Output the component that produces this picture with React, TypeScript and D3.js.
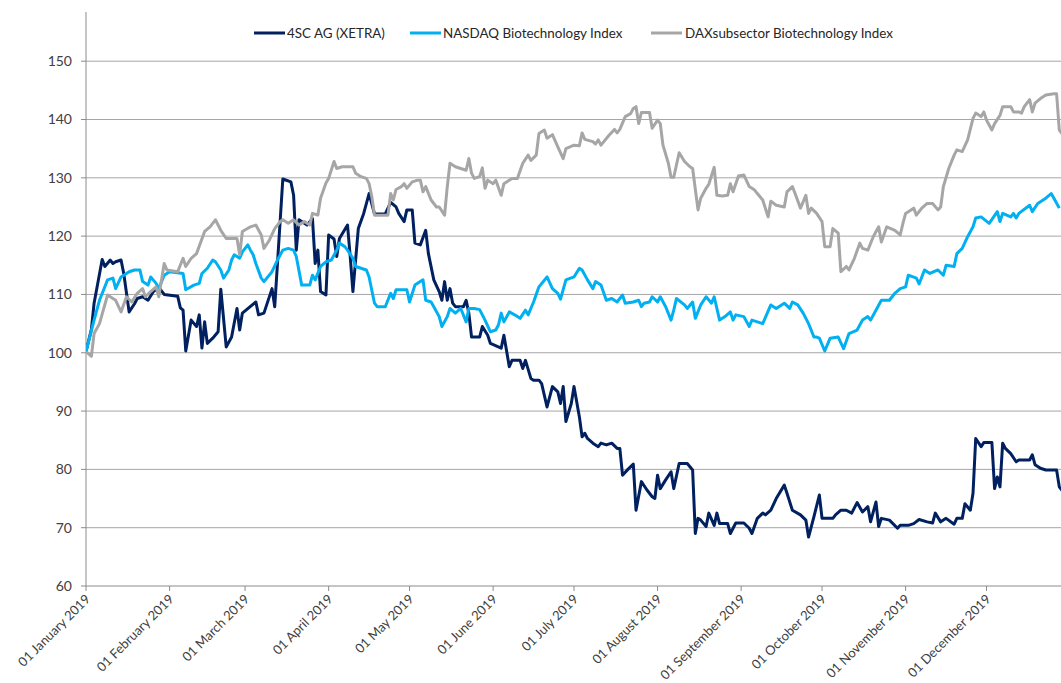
import React from 'react';
import * as d3 from 'd3';

// Indexed performance 2019 (01.01.2019 = 100)
const fourSC: [string, number][] = [
  ['01-01', 100.2], ['01-03', 104], ['01-04', 108.5], ['01-07', 116], ['01-08', 114.8], ['01-10', 115.9],
  ['01-11', 115.3], ['01-12', 115.6], ['01-14', 115.9], ['01-15', 113.6], ['01-17', 107], ['01-19', 108.4],
  ['01-20', 109.3], ['01-22', 109.6], ['01-24', 109], ['01-26', 110.5], ['01-28', 111.2], ['01-30', 110],
  ['02-04', 109.7], ['02-05', 107.7], ['02-06', 107.3], ['02-07', 100.3], ['02-09', 105.6], ['02-11', 104.5],
  ['02-12', 106.5], ['02-13', 100.8], ['02-14', 105.3], ['02-15', 101.6], ['02-17', 102.5], ['02-19', 103.6],
  ['02-20', 110.9], ['02-22', 101], ['02-24', 102.7], ['02-26', 107.6], ['02-27', 103.9], ['02-28', 106.8],
  ['03-05', 108.7], ['03-06', 106.5], ['03-08', 106.8], ['03-11', 111], ['03-12', 107.9], ['03-15', 129.8],
  ['03-18', 129.3], ['03-19', 127], ['03-20', 117.6], ['03-21', 122.8], ['03-23', 122.2], ['03-24', 121.9],
  ['03-26', 123], ['03-27', 115.3], ['03-28', 117.6], ['03-29', 110.5], ['03-31', 109.9], ['04-01', 120.2],
  ['04-03', 119.5], ['04-04', 116.5], ['04-05', 119.6], ['04-08', 121.9], ['04-09', 116.5], ['04-10', 110.5],
  ['04-12', 121.3], ['04-14', 123.9], ['04-16', 127.3], ['04-18', 123.8], ['04-22', 123.8], ['04-24', 125.8],
  ['04-26', 125], ['04-27', 123.9], ['04-29', 122.5], ['04-30', 124.5], ['05-02', 124.5], ['05-03', 118.8],
  ['05-05', 118.5], ['05-07', 121], ['05-08', 117], ['05-10', 112.5], ['05-12', 110.5], ['05-13', 109],
  ['05-14', 112.2], ['05-15', 109], ['05-16', 111], ['05-17', 108.5], ['05-18', 107.9], ['05-21', 107.9],
  ['05-22', 109], ['05-23', 106.8], ['05-24', 102.7], ['05-27', 102.7], ['05-28', 104.5], ['05-30', 103],
  ['05-31', 101.6], ['06-04', 100.8], ['06-05', 103], ['06-07', 97.6], ['06-08', 98.7], ['06-11', 98.7],
  ['06-12', 97.3], ['06-13', 98.7], ['06-15', 95.6], ['06-16', 95.3], ['06-18', 95.3], ['06-19', 94.7],
  ['06-21', 90.7], ['06-23', 94.2], ['06-25', 93.3], ['06-26', 91.3], ['06-27', 94.2], ['06-28', 88.2],
  ['06-30', 91.3], ['07-01', 94.2], ['07-03', 89], ['07-04', 85.6], ['07-05', 86.2], ['07-06', 85.3],
  ['07-08', 84.5], ['07-10', 83.9], ['07-11', 84.5], ['07-13', 84.2], ['07-15', 84.5], ['07-17', 83.6],
  ['07-18', 83.6], ['07-19', 79], ['07-21', 80], ['07-23', 80.9], ['07-24', 73], ['07-26', 77.9],
  ['07-28', 76.5], ['07-30', 75.3], ['07-31', 75], ['08-01', 79], ['08-02', 76.7], ['08-04', 78.2],
  ['08-06', 79.6], ['08-07', 76.7], ['08-09', 81], ['08-12', 81], ['08-14', 79.9], ['08-15', 69],
  ['08-16', 71.6], ['08-17', 71.3], ['08-19', 70.2], ['08-20', 72.5], ['08-22', 70.4], ['08-23', 72.5],
  ['08-24', 70.7], ['08-27', 70.7], ['08-28', 69], ['08-30', 70.8], ['09-02', 70.8], ['09-04', 69.9],
  ['09-05', 69], ['09-07', 71.6], ['09-09', 72.5], ['09-10', 72.2], ['09-12', 73], ['09-14', 75],
  ['09-17', 77.3], ['09-18', 75.9], ['09-20', 73], ['09-23', 72.2], ['09-25', 71.3], ['09-26', 68.4],
  ['09-28', 71.9], ['09-30', 75.6], ['10-01', 71.6], ['10-05', 71.6], ['10-06', 72.2], ['10-08', 73],
  ['10-10', 73], ['10-12', 72.5], ['10-14', 74.3], ['10-16', 72.7], ['10-18', 73.6], ['10-19', 71],
  ['10-21', 74.4], ['10-22', 70.2], ['10-23', 71.6], ['10-26', 71.3], ['10-29', 69.9], ['10-30', 70.4],
  ['11-02', 70.4], ['11-04', 70.7], ['11-06', 71.4], ['11-09', 71], ['11-11', 70.8], ['11-12', 72.5],
  ['11-14', 71], ['11-16', 71.6], ['11-19', 70.6], ['11-20', 71.6], ['11-22', 71.6], ['11-23', 74.1],
  ['11-25', 73], ['11-26', 75.9], ['11-27', 85.3], ['11-29', 83.9], ['11-30', 84.6], ['12-03', 84.6],
  ['12-04', 76.7], ['12-05', 78.7], ['12-06', 77], ['12-07', 84.5], ['12-08', 83.6], ['12-10', 82.7],
  ['12-12', 81.3], ['12-13', 81.6], ['12-17', 81.6], ['12-18', 82.5], ['12-19', 80.8], ['12-21', 80.2],
  ['12-23', 79.9], ['12-27', 79.9], ['12-28', 77], ['12-29', 76.4]
];

const nasdaqBiotech: [string, number][] = [
  ['01-01', 100.2], ['01-04', 105.6], ['01-06', 109], ['01-09', 112.5], ['01-11', 112.8], ['01-12', 111],
  ['01-14', 113], ['01-17', 113.9], ['01-19', 114.2], ['01-21', 114.2], ['01-22', 112.2], ['01-24', 111.6],
  ['01-25', 113], ['01-27', 111.9], ['01-28', 111], ['01-30', 113.3], ['02-01', 113.9], ['02-06', 113.6],
  ['02-07', 110.8], ['02-10', 111.6], ['02-12', 111.9], ['02-13', 113.6], ['02-15', 114.5], ['02-17', 115.9],
  ['02-18', 115.6], ['02-20', 114.2], ['02-21', 112.8], ['02-23', 114.2], ['02-24', 115.9], ['02-25', 116.8],
  ['02-27', 116.2], ['02-28', 117.3], ['03-02', 118.5], ['03-03', 117.6], ['03-04', 116.8], ['03-05', 115.3],
  ['03-07', 112.8], ['03-08', 112.2], ['03-11', 113.9], ['03-13', 115.9], ['03-15', 117.6], ['03-17', 117.9],
  ['03-19', 117.6], ['03-20', 116.5], ['03-22', 111.6], ['03-25', 111.6], ['03-26', 113.3], ['03-27', 112.5],
  ['03-29', 114.8], ['03-31', 115.6], ['04-02', 115.9], ['04-04', 117.6], ['04-05', 118.8], ['04-07', 118.2],
  ['04-08', 117.6], ['04-10', 116.2], ['04-11', 114.8], ['04-13', 114.5], ['04-15', 114.2], ['04-16', 113],
  ['04-18', 108.5], ['04-19', 107.9], ['04-22', 107.9], ['04-24', 110.2], ['04-25', 109.3], ['04-26', 110.8],
  ['04-28', 110.8], ['04-30', 110.8], ['05-01', 108.7], ['05-03', 111.6], ['05-05', 112.2], ['05-06', 112.5],
  ['05-07', 109], ['05-09', 108.7], ['05-10', 107.9], ['05-12', 106.2], ['05-13', 104.5], ['05-15', 106.2],
  ['05-16', 107.6], ['05-18', 106.8], ['05-20', 107.6], ['05-22', 105.3], ['05-23', 107.6], ['05-25', 107.6],
  ['05-27', 107.4], ['05-29', 105.6], ['05-31', 103.6], ['06-02', 103.9], ['06-03', 104.8], ['06-04', 106.8],
  ['06-05', 105.3], ['06-07', 107], ['06-09', 106.5], ['06-11', 105.9], ['06-13', 107.3], ['06-14', 106.5],
  ['06-16', 108.7], ['06-18', 111.3], ['06-21', 113], ['06-23', 111], ['06-25', 110.2], ['06-26', 109.2],
  ['06-28', 112.5], ['07-01', 113], ['07-03', 114.5], ['07-04', 114.2], ['07-06', 112.5], ['07-08', 111],
  ['07-09', 112.2], ['07-11', 111.6], ['07-13', 109], ['07-15', 109.3], ['07-17', 108.7], ['07-19', 109.9],
  ['07-20', 108.5], ['07-23', 108.7], ['07-25', 109], ['07-26', 107.9], ['07-27', 108.5], ['07-29', 108.7],
  ['07-30', 109.6], ['08-01', 108.7], ['08-02', 109.6], ['08-04', 107.9], ['08-06', 105.6], ['08-07', 107.3],
  ['08-08', 109.3], ['08-11', 108.2], ['08-12', 107.6], ['08-14', 108.7], ['08-15', 105.9], ['08-17', 108.2],
  ['08-19', 109.6], ['08-21', 108.5], ['08-22', 109.6], ['08-24', 105.6], ['08-26', 106.2], ['08-28', 107],
  ['08-29', 105.6], ['08-30', 106.5], ['09-02', 106.2], ['09-04', 104.5], ['09-05', 105.6], ['09-07', 105.3],
  ['09-09', 105], ['09-12', 108.2], ['09-14', 107.6], ['09-17', 108.5], ['09-19', 107.6], ['09-20', 108.7],
  ['09-22', 108.2], ['09-24', 106.8], ['09-26', 105], ['09-28', 102.7], ['09-29', 102.7], ['09-30', 102.5],
  ['10-02', 100.3], ['10-04', 102.5], ['10-07', 102.7], ['10-09', 100.7], ['10-11', 103.3], ['10-14', 103.9],
  ['10-16', 105.6], ['10-18', 106.2], ['10-19', 105.6], ['10-21', 107.3], ['10-23', 109], ['10-26', 109],
  ['10-28', 110.2], ['10-30', 111], ['11-01', 111.3], ['11-02', 113.3], ['11-05', 112.8], ['11-06', 111.8],
  ['11-08', 114.2], ['11-10', 113.6], ['11-13', 114.2], ['11-15', 113.3], ['11-16', 115], ['11-19', 114.8],
  ['11-20', 117], ['11-22', 117.9], ['11-24', 119.9], ['11-26', 121.6], ['11-27', 123.1], ['11-29', 123.3],
  ['12-02', 122.2], ['12-05', 124.2], ['12-06', 122.5], ['12-07', 123.9], ['12-10', 123.3], ['12-11', 123.9],
  ['12-12', 123.1], ['12-13', 123.9], ['12-17', 125.3], ['12-18', 124.2], ['12-20', 125.6], ['12-23', 126.5],
  ['12-25', 127.3], ['12-26', 126.5], ['12-28', 124.8]
];

const daxBiotech: [string, number][] = [
  ['01-01', 100.2], ['01-03', 99.4], ['01-04', 103.3], ['01-06', 105], ['01-09', 109.9], ['01-12', 109],
  ['01-14', 107], ['01-16', 109.6], ['01-18', 108.7], ['01-20', 110.2], ['01-22', 111], ['01-23', 109.6],
  ['01-25', 110.5], ['01-27', 111.3], ['01-28', 109.6], ['01-30', 115.3], ['01-31', 114.2], ['02-04', 113.9],
  ['02-06', 116.2], ['02-07', 114.8], ['02-09', 116.2], ['02-11', 117], ['02-14', 120.8], ['02-16', 121.6],
  ['02-18', 122.8], ['02-20', 121], ['02-22', 119.6], ['02-26', 119.6], ['02-27', 116.8], ['02-28', 120.8],
  ['03-03', 121.6], ['03-05', 121.9], ['03-07', 120.2], ['03-08', 117.9], ['03-10', 119.3], ['03-12', 121.3],
  ['03-14', 122.5], ['03-15', 122.8], ['03-17', 122.2], ['03-19', 122.8], ['03-21', 121.9], ['03-23', 122.5],
  ['03-25', 121.9], ['03-26', 123.9], ['03-28', 123.6], ['03-29', 126.5], ['03-31', 129.1], ['04-01', 129.9],
  ['04-03', 132.8], ['04-04', 131.6], ['04-06', 131.9], ['04-10', 131.9], ['04-11', 130.8], ['04-13', 130.2],
  ['04-15', 129.9], ['04-16', 129], ['04-17', 126.8], ['04-18', 123.6], ['04-23', 123.6], ['04-24', 127.3],
  ['04-25', 126.2], ['04-26', 128], ['04-28', 128.5], ['04-29', 129], ['04-30', 128.2], ['05-02', 129.3],
  ['05-04', 129.6], ['05-05', 129.6], ['05-06', 127.6], ['05-07', 128.5], ['05-09', 126.2], ['05-11', 125],
  ['05-12', 125], ['05-14', 123.6], ['05-15', 128.5], ['05-16', 132.5], ['05-18', 131.9], ['05-20', 131.6],
  ['05-22', 131.3], ['05-23', 133.3], ['05-24', 130.8], ['05-25', 129.9], ['05-27', 130.2], ['05-28', 131.7],
  ['05-29', 128.2], ['05-30', 129.6], ['06-01', 129], ['06-02', 129.6], ['06-04', 127], ['06-05', 129],
  ['06-08', 129.9], ['06-10', 129.9], ['06-12', 132.5], ['06-14', 133.9], ['06-15', 133], ['06-17', 133.9],
  ['06-18', 137.6], ['06-20', 138.2], ['06-21', 136.8], ['06-23', 137.4], ['06-25', 135.3], ['06-27', 133.3],
  ['06-28', 135], ['07-01', 135.6], ['07-03', 135.5], ['07-04', 137.7], ['07-05', 136.6], ['07-08', 136.2],
  ['07-09', 135.8], ['07-10', 136.5], ['07-11', 135.6], ['07-14', 137.3], ['07-16', 138.3], ['07-17', 137.7],
  ['07-18', 138.3], ['07-20', 140.5], ['07-22', 141], ['07-23', 141.9], ['07-24', 142.2], ['07-25', 139.3],
  ['07-26', 141.2], ['07-29', 141.2], ['07-30', 138.5], ['08-01', 139.9], ['08-02', 139.3], ['08-03', 135.6],
  ['08-05', 132.5], ['08-06', 130.1], ['08-07', 130.1], ['08-09', 134.3], ['08-11', 132.8], ['08-13', 131.9],
  ['08-14', 131.6], ['08-16', 124.5], ['08-17', 126.5], ['08-19', 128.2], ['08-20', 128.9], ['08-22', 131.8],
  ['08-23', 127], ['08-25', 126.9], ['08-27', 127], ['08-28', 129], ['08-29', 127.6], ['08-31', 130.3],
  ['09-02', 130.5], ['09-04', 128.5], ['09-06', 127.9], ['09-07', 127.3], ['09-09', 126.2], ['09-11', 123.3],
  ['09-12', 126], ['09-14', 125.3], ['09-17', 125], ['09-18', 127.6], ['09-20', 128.5], ['09-21', 127.3],
  ['09-23', 124.8], ['09-25', 127], ['09-26', 123.9], ['09-27', 124.8], ['09-29', 123.9], ['10-01', 122.5],
  ['10-02', 118.2], ['10-04', 118.2], ['10-05', 121.3], ['10-07', 120.5], ['10-08', 113.9], ['10-10', 114.8],
  ['10-11', 114.2], ['10-13', 116.2], ['10-15', 118.8], ['10-16', 117.9], ['10-18', 117.6], ['10-20', 119.9],
  ['10-22', 121.6], ['10-23', 119], ['10-25', 121.6], ['10-28', 121], ['10-30', 120.2], ['10-31', 122.2],
  ['11-01', 123.9], ['11-03', 124.5], ['11-04', 124.8], ['11-05', 123.6], ['11-07', 124.8], ['11-09', 125.6],
  ['11-11', 125.6], ['11-13', 124.5], ['11-14', 125], ['11-15', 128.5], ['11-17', 131.6], ['11-19', 133.9],
  ['11-20', 134.8], ['11-22', 134.5], ['11-24', 136.5], ['11-26', 140.2], ['11-27', 141.1], ['11-29', 140.5],
  ['11-30', 141.3], ['12-01', 139.9], ['12-03', 138.2], ['12-04', 139.3], ['12-06', 140.7], ['12-07', 142.2],
  ['12-10', 142.2], ['12-11', 141.3], ['12-13', 141.3], ['12-14', 141.1], ['12-15', 142.2], ['12-17', 143.4],
  ['12-18', 141.3], ['12-19', 142.8], ['12-21', 143.6], ['12-23', 144.2], ['12-26', 144.4], ['12-27', 144.4],
  ['12-28', 138.2], ['12-29', 137.6]
];

const seriesNames = ['4SC AG (XETRA)', 'NASDAQ Biotechnology Index', 'DAXsubsector Biotechnology Index'];
const yTicks = [60, 70, 80, 90, 100, 110, 120, 130, 140, 150];

const COLORS = ['#002060', '#00b0f0', '#a6a6a6'];
const FONT = 'Lato, "Open Sans", sans-serif';

const parse = d3.utcParse('%Y-%m-%d');
const toDate = (md: string) => parse('2019-' + md) as Date;
const fmt = d3.utcFormat('%d %B %Y');

export default function App() {
  const width = 1061;
  const height = 683;
  const left = 86;
  const right = 1061;
  const bottom = 586;
  const axisTop = 12;

  const x = d3.scaleUtc()
    .domain([toDate('01-01'), toDate('12-01')])
    .range([left, 986.5]);

  const y = d3.scaleLinear()
    .domain([60, 150])
    .range([bottom, 61.2]);

  const line = d3.line<[string, number]>()
    .x(d => x(toDate(d[0])))
    .y(d => y(d[1]))
    .curve(d3.curveLinear);

  const monthTicks = d3.utcMonth.range(toDate('01-01'), toDate('12-02'));
  const allSeries = [fourSC, nasdaqBiotech, daxBiotech];

  // legend slots (line start, text start)
  const legendItems = [
    { lx: 254, tx: 287 },
    { lx: 410, tx: 443 },
    { lx: 651, tx: 685 }
  ];

  return (
    <svg
      width={width}
      height={height}
      style={{ position: 'absolute', left: 0, top: 0, background: '#fff' }}
      fontFamily={FONT}
    >
      <defs>
        <clipPath id="plot-clip">
          <rect x={left} y={0} width={right - left} height={bottom + 2} />
        </clipPath>
      </defs>

      {/* gridlines */}
      {yTicks.filter(t => t > 60).map(t => (
        <line key={t} x1={left} x2={right} y1={y(t)} y2={y(t)} stroke="#a6a6a6" strokeWidth={1} />
      ))}

      {/* y axis */}
      <line x1={left} x2={left} y1={axisTop} y2={bottom} stroke="#8c8c8c" strokeWidth={1} />
      {yTicks.map(t => (
        <g key={t}>
          <line x1={left - 5} x2={left} y1={y(t)} y2={y(t)} stroke="#8c8c8c" />
          <text x={left - 14} y={y(t)} dy="0.35em" textAnchor="end" fontSize={14} fill="#404040">{t}</text>
        </g>
      ))}

      {/* x axis */}
      <line x1={left} x2={right} y1={bottom} y2={bottom} stroke="#8c8c8c" strokeWidth={1} />
      {monthTicks.map(m => (
        <g key={m.getTime()}>
          <line x1={x(m)} x2={x(m)} y1={bottom} y2={bottom + 5} stroke="#8c8c8c" />
          <text
            transform={`translate(${x(m) + 5},${bottom + 14}) rotate(-45)`}
            textAnchor="end"
            fontSize={13}
            fill="#404040"
          >
            {fmt(m)}
          </text>
        </g>
      ))}

      {/* series */}
      <g clipPath="url(#plot-clip)">
        {allSeries.map((s, i) => (
          <path
            key={i}
            d={line(s) || ''}
            fill="none"
            stroke={COLORS[i]}
            strokeWidth={3}
            strokeLinejoin="round"
          />
        ))}
      </g>

      {/* legend */}
      {seriesNames.map((name, i) => (
        <g key={name}>
          <line x1={legendItems[i].lx} x2={legendItems[i].lx + 31} y1={33} y2={33} stroke={COLORS[i]} strokeWidth={3} />
          <text x={legendItems[i].tx} y={33} dy="0.35em" fontSize={13.4} fill="#262626">{name}</text>
        </g>
      ))}
    </svg>
  );
}
